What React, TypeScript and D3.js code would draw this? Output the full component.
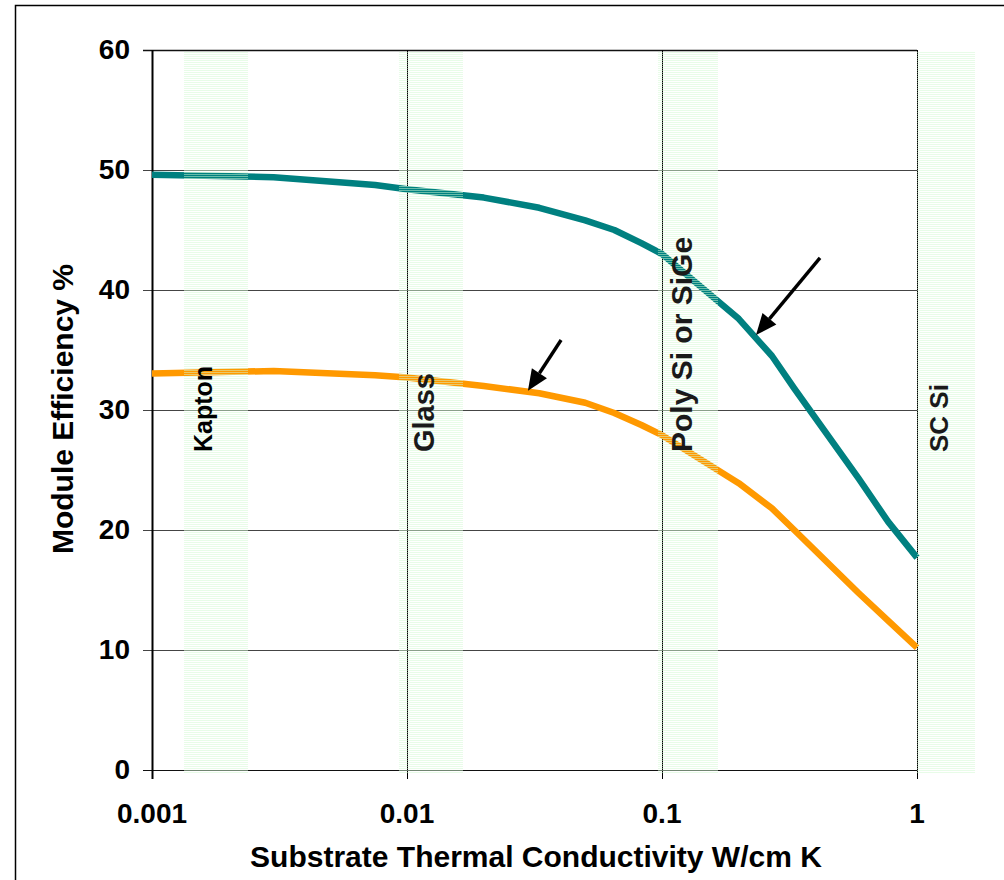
import React from "react";
import * as d3 from "d3";

const conductivity = [0.001, 0.003, 0.0075, 0.01, 0.02, 0.033, 0.05, 0.065, 0.083, 0.1, 0.2, 0.27, 0.33, 0.59, 0.77, 1];
const tealSeries = [49.6, 49.4, 48.75, 48.4, 47.7, 46.85, 45.8, 45.0, 43.9, 43.0, 37.6, 34.5, 31.8, 24.3, 20.7, 17.7];
const orangeSeries = [33.05, 33.25, 32.9, 32.7, 32.0, 31.4, 30.6, 29.75, 28.75, 27.9, 23.9, 21.8, 20.0, 14.75, 12.45, 10.2];

const xTicks = [0.001, 0.01, 0.1, 1];
const xTickLabels = ["0.001", "0.01", "0.1", "1"];
const yTicks = [0, 10, 20, 30, 40, 50, 60];

const bandNames = ["Kapton", "Glass", "Poly Si or SiGe", "SC Si"];
const bandFrom = [0.001335, 0.0093, 0.0964, 1.0];
const bandTo = [0.00238, 0.01658, 0.1658, 1.689];

// arrows: [fromX, fromY, toX, toY] in data units
const arrowTeal = [0.4165, 42.67, 0.2337, 36.25];
const arrowOrange = [0.0402, 35.83, 0.0298, 31.6];

const W = 1004;
const H = 880;
const FONT = "'Liberation Sans', Arial, Helvetica, sans-serif";

export default function App() {
  const x = d3.scaleLog().domain([0.001, 1]).range([152, 917]);
  const y = d3.scaleLinear().domain([0, 60]).range([770, 50]);

  const line = d3
    .line<number>()
    .x((_, i) => x(conductivity[i]))
    .y((d) => y(d));

  const bandLabelSize = [25, 29, 30, 26];
  const bandBaseline = [212, 434, 692, 948];

  const arrow = (a: number[], key: string) => {
    const x1 = x(a[0]);
    const y1 = y(a[1]);
    const x2 = x(a[2]);
    const y2 = y(a[3]);
    const ang = Math.atan2(y2 - y1, x2 - x1);
    const hl = 21;
    const hw = 9;
    const bx = x2 - hl * Math.cos(ang);
    const by = y2 - hl * Math.sin(ang);
    const px = -Math.sin(ang);
    const py = Math.cos(ang);
    const pts = [
      [x2, y2],
      [bx + hw * px, by + hw * py],
      [bx - hw * px, by - hw * py],
    ];
    return (
      <g key={key}>
        <line x1={x1} y1={y1} x2={bx} y2={by} stroke="#000" strokeWidth={3.4} />
        <polygon points={pts.map((p) => p.join(",")).join(" ")} fill="#000" />
      </g>
    );
  };

  return (
    <svg
      width={W}
      height={H}
      style={{ position: "absolute", left: 0, top: 0, background: "#fff" }}
      fontFamily={FONT}
    >
      <defs>
        <pattern id="stripes" patternUnits="userSpaceOnUse" width={4} height={2}>
          <rect x={0} y={0} width={4} height={1} fill="#d2fad2" fillOpacity={0.5} />
        </pattern>
      </defs>
      <rect x={15.5} y={5.5} width={990} height={880} fill="none" stroke="#000" strokeWidth={1.5} />

      {/* horizontal gridlines */}
      {yTicks.map((t) => (
        <line
          key={"hg" + t}
          x1={143}
          x2={917}
          y1={Math.round(y(t)) + 0.5}
          y2={Math.round(y(t)) + 0.5}
          stroke={t === 0 || t === 60 ? "#111" : "#444"}
          strokeWidth={t === 60 ? 1.6 : 1.2}
        />
      ))}
      {/* vertical gridlines */}
      {xTicks.map((t) => (
        <line
          key={"vg" + t}
          x1={Math.round(x(t)) + 0.5}
          x2={Math.round(x(t)) + 0.5}
          y1={50}
          y2={779}
          stroke="#000"
          strokeWidth={t === 0.001 ? 2 : 1}
        />
      ))}

      {/* curves */}
      <path d={line(orangeSeries) || ""} fill="none" stroke="#FF9900" strokeWidth={6.5} strokeLinejoin="round" />
      <path d={line(tealSeries) || ""} fill="none" stroke="#008080" strokeWidth={6.5} strokeLinejoin="round" />

      {/* bands */}
      {bandNames.map((n, i) => (
        <rect
          key={"band" + n}
          x={x(bandFrom[i])}
          y={52}
          width={x(bandTo[i]) - x(bandFrom[i])}
          height={721}
          fill="url(#stripes)"
        />
      ))}

      {/* band labels */}
      {bandNames.map((n, i) => (
        <text
          key={"bl" + n}
          transform={`translate(${bandBaseline[i]},452) rotate(-90)`}
          fontSize={bandLabelSize[i]}
          fontWeight="bold"
          fill={i === 0 ? "#000" : "#1a1a1a"}
        >
          {n}
        </text>
      ))}

      {arrow(arrowTeal, "at")}
      {arrow(arrowOrange, "ao")}

      {/* y tick labels */}
      {yTicks.map((t) => (
        <text
          key={"yl" + t}
          x={130}
          y={y(t) + 9}
          textAnchor="end"
          fontSize={28}
          fontWeight="bold"
        >
          {t}
        </text>
      ))}
      {/* x tick labels */}
      {xTicks.map((t, i) => (
        <text key={"xl" + t} x={x(t)} y={823} textAnchor="middle" fontSize={28} fontWeight="bold">
          {xTickLabels[i]}
        </text>
      ))}

      <text x={536} y={867} textAnchor="middle" fontSize={30} fontWeight="bold">
        Substrate Thermal Conductivity W/cm K
      </text>
      <text
        transform={`translate(73,409) rotate(-90)`}
        textAnchor="middle"
        fontSize={30}
        fontWeight="bold"
      >
        Module Efficiency %
      </text>
    </svg>
  );
}
